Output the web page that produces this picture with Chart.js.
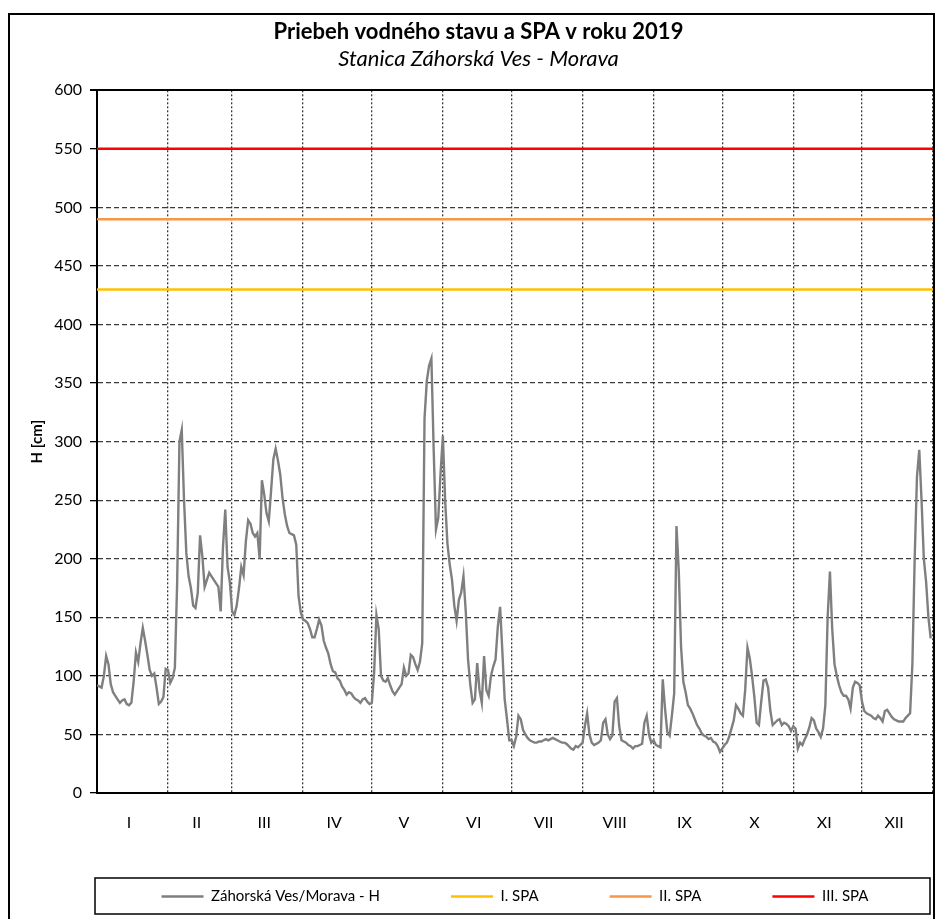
<!DOCTYPE html>
<html>
<head>
<meta charset="utf-8">
<title>Priebeh vodného stavu a SPA v roku 2019</title>
<script src="https://cdn.jsdelivr.net/npm/chart.js@4.4.1/dist/chart.umd.min.js"></script>
<style>
  html, body { margin: 0; padding: 0; background: #fff; }
  #wrap { width: 937px; height: 919px; }
</style>
</head>
<body>
<div id="wrap"><canvas id="levelChart" width="937" height="919"></canvas></div>
<script>
// month tick labels and month lengths (2019)
const monthLabels = ['I', 'II', 'III', 'IV', 'V', 'VI', 'VII', 'VIII', 'IX', 'X', 'XI', 'XII'];
const monthDays = [31, 28, 31, 30, 31, 30, 31, 31, 30, 31, 30, 31];

// daily water level H [cm], Záhorská Ves / Morava
const jan = [92, 91, 90, 100, 117, 110, 93, 86, 83, 80, 77, 79, 80, 76, 75, 77, 95, 120, 112, 128, 141, 130, 118, 105, 100, 102, 90, 76, 78, 82, 106];
const feb = [105, 94, 98, 107, 180, 300, 310, 250, 205, 185, 175, 160, 158, 171, 220, 202, 176, 182, 188, 185, 182, 179, 176, 155, 210, 242, 193, 180];
const mar = [155, 152, 160, 175, 193, 186, 215, 233, 230, 222, 219, 222, 200, 267, 255, 239, 232, 258, 285, 294, 284, 272, 252, 238, 228, 222, 221, 220, 212, 168, 154];
const apr = [148, 147, 145, 140, 133, 133, 140, 148, 143, 130, 124, 119, 110, 104, 103, 98, 96, 91, 88, 84, 86, 85, 82, 80, 79, 77, 80, 81, 78, 76];
const may = [77, 103, 152, 140, 100, 96, 95, 98, 92, 87, 84, 87, 90, 93, 107, 100, 102, 118, 116, 110, 105, 112, 128, 320, 352, 365, 371, 293, 225, 235, 273];
const jun = [305, 250, 213, 195, 182, 160, 147, 165, 171, 185, 155, 114, 92, 77, 80, 111, 88, 77, 117, 88, 83, 100, 108, 114, 142, 159, 120, 80, 63, 45];
const jul = [45, 40, 48, 66, 63, 54, 50, 47, 45, 44, 43, 43, 44, 44, 45, 46, 45, 46, 47, 46, 45, 44, 43, 43, 42, 40, 38, 37, 40, 39, 41];
const aug = [43, 57, 68, 50, 43, 41, 42, 43, 45, 60, 63, 50, 46, 49, 78, 81, 57, 45, 44, 43, 41, 40, 38, 40, 40, 41, 42, 60, 66, 50, 43];
const sep = [45, 41, 40, 39, 97, 72, 52, 49, 66, 85, 228, 190, 125, 95, 86, 75, 72, 68, 63, 58, 55, 51, 49, 48, 46, 47, 44, 43, 40, 35];
const oct = [38, 41, 43, 48, 55, 62, 75, 72, 68, 66, 88, 124, 115, 100, 82, 60, 58, 78, 96, 97, 90, 70, 58, 60, 62, 63, 58, 60, 59, 57, 53];
const nov = [57, 55, 38, 43, 41, 46, 50, 56, 64, 62, 55, 52, 48, 55, 75, 150, 189, 140, 110, 100, 92, 86, 83, 83, 80, 72, 90, 95, 94, 92];
const dec = [78, 70, 68, 67, 66, 64, 63, 66, 64, 61, 70, 71, 68, 65, 63, 62, 61, 61, 61, 64, 66, 68, 110, 200, 270, 293, 250, 200, 180, 150, 132];

// flood warning levels (SPA) in cm
const spaNames = ['I. SPA', 'II. SPA', 'III. SPA'];
const spaLevels = [430, 490, 550];

const yTicks = [0, 50, 100, 150, 200, 250, 300, 350, 400, 450, 500, 550, 600];

const daily = [jan, feb, mar, apr, may, jun, jul, aug, sep, oct, nov, dec].flat();
const yearDays = monthDays.reduce((a, b) => a + b, 0);

// month boundaries (grid) and label positions (a little left of mid month, as in the original)
const monthStart = [];
const monthMid = [];
let acc = 0;
monthDays.forEach(d => {
    monthStart.push(acc);
    monthMid.push(acc + d / 2 - 1.5);
    acc += d;
});
monthStart.push(acc);

const LEGEND_PAD = 56;
const FONT = 'Lato, "Open Sans", sans-serif';

// outer frame + legend frame
const framePlugin = {
    id: 'frames',
    afterDraw(chart) {
        const ctx = chart.ctx;
        const area = chart.chartArea;
        ctx.save();
        ctx.strokeStyle = '#000';
        ctx.lineWidth = 2;
        ctx.beginPath();
        ctx.moveTo(9, chart.height + 2);
        ctx.lineTo(9, 14);
        ctx.lineTo(area.right + 1, 14);
        ctx.lineTo(area.right + 1, chart.height + 2);
        ctx.stroke();

        const lg = chart.legend;
        const fs = lg.options.labels.font.size;
        const cy = lg.top + LEGEND_PAD + fs / 2;
        ctx.lineWidth = 1.5;
        ctx.strokeRect(area.left - 2, cy - 18.5, area.right - area.left - 1, 36);
        ctx.restore();
    }
};

const ctx = document.getElementById('levelChart').getContext('2d');
const levelChart = new Chart(ctx, {
    type: 'line',
    data: {
        datasets: [
            {
                label: 'Záhorská Ves/Morava - H',
                data: daily.map((v, i) => ({ x: i, y: v })),
                borderColor: '#7F7F7F',
                backgroundColor: '#7F7F7F',
                borderWidth: 2.4,
                pointRadius: 0,
                tension: 0
            },
            ...spaLevels.map((lvl, k) => ({
                label: spaNames[k],
                data: [{ x: 0, y: lvl }, { x: yearDays, y: lvl }],
                borderColor: ['#FFC000', '#F79646', '#FF0000'][k],
                backgroundColor: ['#FFC000', '#F79646', '#FF0000'][k],
                borderWidth: 2.5,
                pointRadius: 0
            }))
        ]
    },
    options: {
        responsive: false,
        animation: false,
        parsing: false,
        layout: { padding: { top: 16, left: 24, right: 4, bottom: 5 } },
        plugins: {
            title: {
                display: true,
                text: 'Priebeh vodného stavu a SPA v roku 2019',
                color: '#000',
                font: { family: FONT, size: 22, weight: 'bold' },
                padding: { top: 2.5, bottom: 0.5 }
            },
            subtitle: {
                display: true,
                text: 'Stanica Záhorská Ves - Morava',
                color: '#000',
                font: { family: FONT, size: 22, style: 'italic' },
                padding: { top: 0, bottom: 18.5 }
            },
            legend: {
                position: 'bottom',
                fullSize: false,
                labels: {
                    usePointStyle: true,
                    pointStyle: 'line',
                    pointStyleWidth: 42,
                    padding: LEGEND_PAD,
                    color: '#000',
                    font: { family: FONT, size: 15 },
                    generateLabels: chart => {
                        const items = Chart.defaults.plugins.legend.labels.generateLabels(chart);
                        // a bit more room after each entry, like the original
                        items.forEach((it, i) => {
                            if (i < items.length - 1) it.text += '\u2003\u2005';
                        });
                        return items;
                    }
                }
            },
            tooltip: { enabled: false }
        },
        scales: {
            x: {
                type: 'linear',
                min: 0,
                max: yearDays,
                afterBuildTicks: s => {
                    s.ticks = monthStart.concat(monthMid).map(v => ({ value: v }));
                },
                afterFit: s => { s.height = 40; },
                ticks: {
                    autoSkip: false,
                    maxRotation: 0,
                    padding: 20,
                    color: '#000',
                    font: { family: FONT, size: 16 },
                    callback: v => {
                        const m = monthMid.indexOf(v);
                        return m >= 0 ? monthLabels[m] : '';
                    }
                },
                grid: {
                    drawTicks: false,
                    lineWidth: 1.3,
                    color: c => (c.tick && monthStart.includes(c.tick.value)) ? '#3a3a3a' : 'rgba(0,0,0,0)'
                },
                border: { display: true, color: '#000', width: 2, dash: [2, 2] }
            },
            y: {
                min: 0,
                max: 600,
                afterBuildTicks: s => {
                    s.ticks = yTicks.map(v => ({ value: v }));
                },
                afterFit: s => { s.width = 73; },
                title: {
                    display: true,
                    text: 'H [cm]',
                    color: '#000',
                    font: { family: FONT, size: 15, weight: 'bold' },
                    padding: { top: 4, bottom: 0 }
                },
                ticks: {
                    padding: 8,
                    color: '#000',
                    font: { family: FONT, size: 16 }
                },
                grid: {
                    tickLength: 7,
                    tickColor: '#000',
                    lineWidth: c => (c.tick && c.tick.value === 600) ? 2 : 1.3,
                    color: c => (c.tick && c.tick.value === 600) ? '#000' : '#3a3a3a'
                },
                border: {
                    display: true,
                    color: '#000',
                    width: 2,
                    dash: c => (c.tick && c.tick.value === 600) ? [] : [5, 3]
                }
            }
        }
    },
    plugins: [framePlugin]
});
</script>
</body>
</html>
